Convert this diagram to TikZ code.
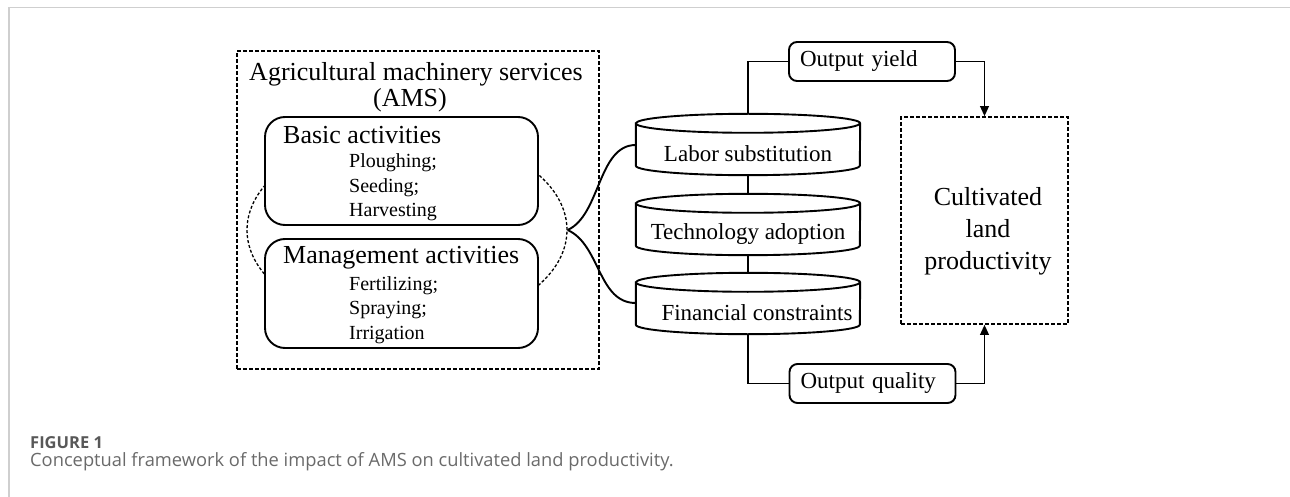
\documentclass[tikz,border=0pt]{standalone}
\usepackage{fontspec}
\setmainfont{Liberation Serif}
\newfontfamily\capfont{Open Sans}
\usetikzlibrary{shapes.geometric,calc,arrows.meta,backgrounds}
\definecolor{framegray}{HTML}{CFCFCF}
\definecolor{capgray}{HTML}{6A6A6A}
\definecolor{headgray}{HTML}{585858}

% cylinder drawn around a body node: top ellipse sits on the node's north edge
\newcommand\drumshape[1]{%
  \draw[edge,fill=white] ($(#1.north west)+(0,9.5)$) -- ($(#1.south west)+(0,9.5)$)
    arc[start angle=180,end angle=360,x radius=112pt,y radius=9.5pt]
    -- ($(#1.north east)+(0,9.5)$)
    arc[start angle=0,end angle=180,x radius=112pt,y radius=9.5pt] -- cycle;
  \draw[edge] ($(#1.north west)+(0,9.5)$)
    arc[start angle=180,end angle=360,x radius=112pt,y radius=9.5pt];}

\begin{document}
\begin{tikzpicture}[x=1pt,y=1pt,
  edge/.style={line width=1.9pt},
  dashbox/.style={draw,line width=1.5pt,dash pattern=on 4pt off 2pt,inner sep=0},
  roundbox/.style={draw,line width=1.9pt,rounded corners=20pt,fill=white,inner sep=0,
    minimum width=273pt,minimum height=108pt},
  outbox/.style={draw,line width=1.9pt,rounded corners=8pt,fill=white,inner xsep=11pt,
    inner ysep=0pt,text width=144pt,align=left,minimum height=39pt,
    font=\fontsize{23}{27}\selectfont},
  drumbody/.style={inner sep=0,minimum width=224pt,minimum height=42pt,
    font=\fontsize{23}{27}\selectfont},
  headtext/.style={inner sep=0,font=\fontsize{26}{31}\selectfont},
  itemtext/.style={inner sep=0,anchor=west,align=left,font=\fontsize{20}{24.5}\selectfont},
  tip/.style={-{Triangle[length=10pt,width=8.5pt]}}]
\useasboundingbox (0,0) rectangle (1290,-497);

% page frame
\draw[framegray,line width=1.5pt] (9,-497) -- (9,-7.5) -- (1290,-7.5);

% AMS container
\node[dashbox,minimum width=362pt,minimum height=318pt] (ams) at (418,-210) {};
\node[headtext] (amstitle) at (416,-74) {Agricultural machinery services};
\node[headtext] (amsabbr) at (410,-100) {(AMS)};

% dashed ring joining the two activity groups
\node[ellipse,draw,line width=1.3pt,dash pattern=on 3pt off 2pt,inner sep=0,
  minimum width=320pt,minimum height=194pt] (ring) at (407,-230) {};

% activity groups
\node[roundbox] (basic) at (401.5,-171) {};
\node[headtext,anchor=west] (basichead) at (283,-135) {Basic activities};
\node[itemtext] (basicitems) at (349,-187.5) {Ploughing;\\Seeding;\\Harvesting};

\node[roundbox,minimum height=109pt] (mgmt) at (401.5,-293.5) {};
\node[headtext,anchor=west] (mgmthead) at (283,-258) {Management activities};
\node[itemtext] (mgmtitems) at (349,-310) {Fertilizing;\\Spraying;\\Irrigation};

% mechanism cylinders
\node[drumbody] (lab) at (748,-154) {Labor substitution};
\node[drumbody] (tech) at (748,-234) {Technology adoption};
\node[drumbody] (fin) at (748,-313) {\hspace*{18pt}Financial constraints};
\begin{pgfonlayer}{background}
  \drumshape{lab}
  \drumshape{tech}
  \drumshape{fin}
\end{pgfonlayer}

% outcome boxes
\node[outbox] (oy) at (872,-61.5) {Output yield};
\node[outbox] (oq) at (872.5,-383.5) {Output quality};

% target box
\node[dashbox,minimum width=167pt,minimum height=207pt] (crop) at (984.5,-220.5) {};
\node[align=center,inner sep=0,font=\fontsize{26}{32}\selectfont] (croptext) at (988,-231)
  {Cultivated\\land\\productivity};

% connectors
\draw[edge] (ring.east) .. controls +(33,15) and +(-38,0) .. ($(lab.west)+(0,9)$);
\draw[edge] (ring.east) .. controls +(33,-15) and +(-38,0) .. ($(fin.west)+(0,10)$);
\draw[edge] (lab.south) -- ($(tech.north)+(0,19)$);
\draw[edge] (tech.south) -- ($(fin.north)+(0,19)$);
\draw[edge] ($(lab.north)+(0,19)$) |- (oy.west);
\draw[edge] (fin.south) |- (oq.west);
\draw[edge,tip] (oy.east) -| (crop.north);
\draw[edge,tip] (oq.east) -| (crop.south);

% caption
\node[anchor=base west,inner sep=0,text=headgray,font=\capfont\bfseries\fontsize{16.5}{20}\selectfont]
  (figlabel) at (30,-448) {FIGURE 1};
\node[anchor=base west,inner sep=0,text=capgray,font=\capfont\fontsize{18.3}{22}\selectfont]
  (figcap) at (30,-466) {Conceptual framework of the impact of AMS on cultivated land productivity.};
\end{tikzpicture}
\end{document}
